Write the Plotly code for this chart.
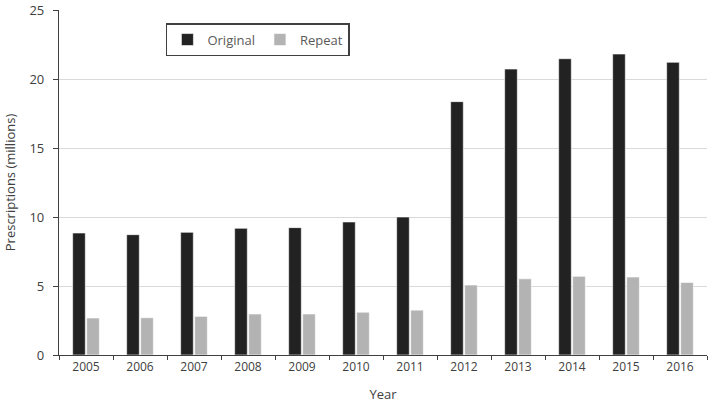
import plotly.graph_objects as go

years = ['2005', '2006', '2007', '2008', '2009', '2010',
         '2011', '2012', '2013', '2014', '2015', '2016']
original = [8.84, 8.72, 8.89, 9.18, 9.23, 9.64, 10.0, 18.36, 20.72, 21.47, 21.81, 21.21]
repeat = [2.68, 2.70, 2.80, 2.97, 2.97, 3.10, 3.25, 5.07, 5.52, 5.70, 5.65, 5.26]

font_col = '#595959'

trace1 = go.Bar(
    x=years,
    y=original,
    name='Original',
    marker=dict(color='#222222', line=dict(color='#ffffff', width=0.6))
)
trace2 = go.Bar(
    x=years,
    y=repeat,
    name='Repeat',
    marker=dict(color='#b3b3b3', line=dict(color='#ffffff', width=0.6))
)

fig = go.Figure(data=[trace1, trace2])
fig.update_layout(
    width=709,
    height=408,
    margin=dict(l=59, r=2, t=10, b=53),
    paper_bgcolor='white',
    plot_bgcolor='white',
    font=dict(family='Open Sans, Liberation Sans, Arial', size=13, color=font_col),
    barmode='group',
    bargap=0.48,
    bargroupgap=0.1,
    showlegend=True,
    legend=dict(
        orientation='h',
        x=0.165, y=0.962,
        xanchor='left', yanchor='top',
        bordercolor='#404040',
        borderwidth=1.5,
        bgcolor='white',
        font=dict(size=13, color=font_col),
        itemwidth=30,
    ),
    xaxis=dict(
        automargin=False,
        title=dict(text='Year', font=dict(size=13, color='#404040'), standoff=16),
        tickson='boundaries',
        ticks='outside',
        ticklen=4,
        tickcolor='#404040',
        showline=True,
        linecolor='#404040',
        linewidth=1.2,
        tickfont=dict(size=12, color='#404040'),
    ),
    yaxis=dict(
        automargin=False,
        title=dict(text='Prescriptions (millions)', font=dict(size=13, color='#404040'), standoff=10),
        range=[0, 25],
        dtick=5,
        ticks='outside',
        ticklen=5,
        ticklabelstandoff=6,
        tickcolor='#404040',
        showline=True,
        linecolor='#404040',
        linewidth=1.2,
        showgrid=True,
        gridcolor='#d9d9d9',
        zeroline=False,
        tickfont=dict(size=13, color='#404040'),
    ),
)
# drop the browser's default body margin so the chart sits at the page corner
fig.write_html('out.html', config={'displayModeBar': False},
               post_script="document.body.style.margin='0px';")
